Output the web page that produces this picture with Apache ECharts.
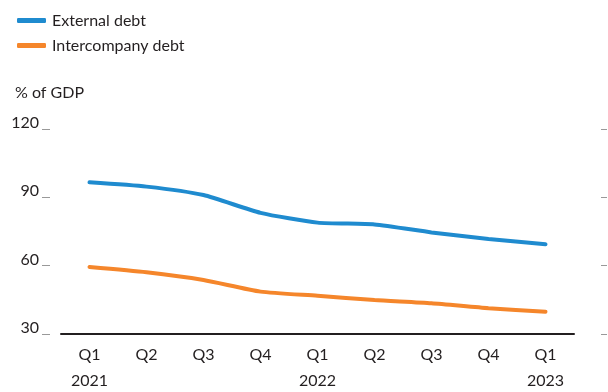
<!DOCTYPE html>
<html>
<head>
<meta charset="utf-8">
<script src="https://cdn.jsdelivr.net/npm/echarts@6/dist/echarts.min.js"></script>
<style>
  html, body { margin: 0; padding: 0; background: #fff; }
  #chart { width: 608px; height: 392px; }
</style>
</head>
<body>
<div id="chart"></div>
<script>
const categories = ['Q1\n2021', 'Q2', 'Q3', 'Q4', 'Q1\n2022', 'Q2', 'Q3', 'Q4', 'Q1\n2023'];
const externalDebt = [96.6, 94.7, 91.0, 83.2, 78.9, 78.1, 74.6, 71.7, 69.4];
const intercompanyDebt = [59.4, 57.1, 53.7, 48.6, 46.8, 44.9, 43.5, 41.3, 39.8];
const yTicks = [30, 60, 90, 120];

const textColor = '#231f20';
const font = 'Lato';

const chart = echarts.init(document.getElementById('chart'));
chart.setOption({
  animation: false,
  textStyle: { fontFamily: font, color: textColor },
  title: {
    text: '% of GDP',
    left: 10,
    top: 80,
    textStyle: { fontFamily: font, fontSize: 16, fontWeight: 'normal', color: textColor }
  },
  legend: {
    orient: 'vertical',
    left: 12,
    top: 6,
    itemWidth: 29,
    itemHeight: 5,
    itemGap: 6,
    icon: 'roundRect',
    textStyle: { fontFamily: font, fontSize: 16, color: textColor, lineHeight: 19, padding: [0, 0, 0, 1] }
  },
  grid: {
    left: 61,
    right: 34,
    top: 129,
    bottom: 58,
    outerBoundsMode: 'none'
  },
  xAxis: {
    type: 'category',
    data: categories,
    boundaryGap: true,
    axisLine: { lineStyle: { color: textColor, width: 2 } },
    axisTick: { show: false },
    axisLabel: {
      interval: 0,
      margin: 8,
      fontFamily: font,
      fontSize: 16,
      lineHeight: 26,
      color: textColor
    }
  },
  yAxis: [
    {
      type: 'value',
      min: yTicks[0],
      max: yTicks[yTicks.length - 1],
      interval: 30,
      position: 'left',
      offset: 11,
      axisLine: { show: false },
      axisTick: { show: true, length: 8, lineStyle: { color: '#999', width: 1 } },
      splitLine: { show: false },
      axisLabel: {
        margin: 11,
        fontFamily: font,
        fontSize: 16,
        color: textColor,
        verticalAlign: 'bottom',
        lineHeight: 12
      }
    },
    {
      type: 'value',
      min: yTicks[0],
      max: yTicks[yTicks.length - 1],
      interval: 30,
      position: 'right',
      offset: 27,
      axisLine: { show: false },
      axisTick: { show: true, length: 6, lineStyle: { color: '#999', width: 1 } },
      splitLine: { show: false },
      axisLabel: { show: false }
    }
  ],
  series: [
    {
      name: 'External debt',
      type: 'line',
      data: externalDebt,
      symbol: 'none',
      smooth: 0.2,
      color: '#1f8bcf',
      lineStyle: { width: 4, cap: 'round' }
    },
    {
      name: 'Intercompany debt',
      type: 'line',
      data: intercompanyDebt,
      symbol: 'none',
      smooth: 0.2,
      color: '#f5862b',
      lineStyle: { width: 4, cap: 'round' }
    }
  ]
});
</script>
</body>
</html>
